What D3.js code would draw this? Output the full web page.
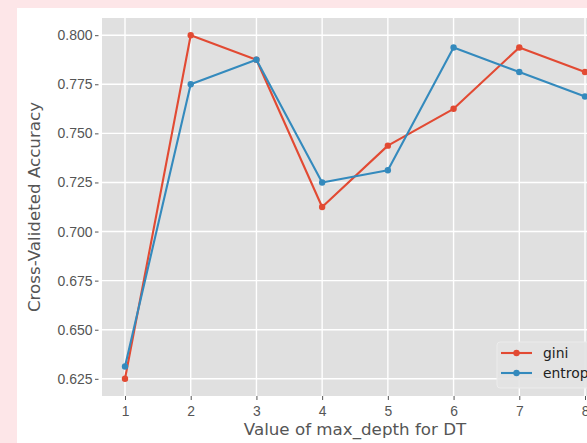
<!DOCTYPE html>
<html>
<head>
<meta charset="utf-8">
<script src="https://cdn.jsdelivr.net/npm/d3@7"></script>
<style>
  html, body { margin: 0; padding: 0; background: #fde6e8; }
  svg { display: block; font-family: "DejaVu Sans", sans-serif; }
</style>
</head>
<body>
<div id="chart"></div>
<script>
// data
const depths = [1, 2, 3, 4, 5, 6, 7, 8];
const giniAcc = [0.625, 0.800, 0.7875, 0.7125, 0.74375, 0.7625, 0.79375, 0.78125];
const entropyAcc = [0.63125, 0.775, 0.7875, 0.725, 0.73125, 0.79375, 0.78125, 0.76875];
const yTicks = [0.625, 0.650, 0.675, 0.700, 0.725, 0.750, 0.775, 0.800];
const seriesNames = ["gini", "entropy"];
const seriesColors = ["#E24A33", "#348ABD"];

const width = 587, height = 443;
// panel goes past the right edge, the figure is cropped there
const panel = { left: 102, right: 608, top: 18, bottom: 396 };

const svg = d3.select("#chart").append("svg")
    .attr("width", width)
    .attr("height", height);

// pink frame + white figure area
svg.append("rect").attr("width", width).attr("height", height).attr("fill", "#fde6e8");
svg.append("rect").attr("x", 17).attr("y", 8)
    .attr("width", width - 17).attr("height", height - 8).attr("fill", "#ffffff");

const x = d3.scaleLinear().domain([0.65, 8.35]).range([panel.left, panel.right]);
const y = d3.scaleLinear().domain([0.61625, 0.80875]).range([panel.bottom, panel.top]);

// panel background
svg.append("rect")
    .attr("x", panel.left).attr("y", panel.top)
    .attr("width", panel.right - panel.left).attr("height", panel.bottom - panel.top)
    .attr("fill", "#e0e0e0");

// grid
const g = svg.append("g");
g.selectAll(".hgrid").data(yTicks).enter().append("line")
    .attr("x1", panel.left).attr("x2", panel.right)
    .attr("y1", d => y(d)).attr("y2", d => y(d))
    .attr("stroke", "#fff").attr("stroke-width", 1.4);
g.selectAll(".vgrid").data(depths).enter().append("line")
    .attr("y1", panel.top).attr("y2", panel.bottom)
    .attr("x1", d => x(d)).attr("x2", d => x(d))
    .attr("stroke", "#fff").attr("stroke-width", 1.4);

// axes (ticks outside the panel, no spine)
const xAxis = svg.append("g")
    .attr("transform", `translate(0, ${panel.bottom})`)
    .call(d3.axisBottom(x).tickValues(depths).tickFormat(d3.format("d")).tickSizeInner(5).tickSizeOuter(0).tickPadding(5));
xAxis.select(".domain").remove();
xAxis.selectAll(".tick line").attr("stroke", "#555").attr("y1", 0).attr("y2", 4);
xAxis.selectAll("text").attr("fill", "#555").style("font-size", "13.9px");

const yAxis = svg.append("g")
    .attr("transform", `translate(${panel.left}, 0)`)
    .call(d3.axisLeft(y).tickValues(yTicks).tickFormat(d3.format(".3f")).tickSizeInner(7).tickSizeOuter(0).tickPadding(2.5));
yAxis.select(".domain").remove();
yAxis.selectAll(".tick line").attr("stroke", "#555").attr("x1", -7).attr("x2", -3.5);
yAxis.selectAll("text").attr("fill", "#555").style("font-size", "14px");

// axis labels
svg.append("text")
    .attr("x", (panel.left + panel.right) / 2)
    .attr("y", 435)
    .attr("text-anchor", "middle")
    .attr("fill", "#555")
    .style("font-size", "16.7px")
    .text("Value of max_depth for DT");

svg.append("text")
    .attr("transform", `translate(40, ${(panel.top + panel.bottom) / 2}) rotate(-90)`)
    .attr("text-anchor", "middle")
    .attr("fill", "#555")
    .style("font-size", "16.7px")
    .text("Cross-Valideted Accuracy");

// lines + markers
const seriesData = [giniAcc, entropyAcc];
const line = d3.line().x((d, i) => x(depths[i])).y(d => y(d));

seriesData.forEach((vals, s) => {
    svg.append("path")
        .datum(vals)
        .attr("d", line)
        .attr("fill", "none")
        .attr("stroke", seriesColors[s])
        .attr("stroke-width", 2.1)
        .attr("stroke-linejoin", "round");
    svg.selectAll(".pt" + s).data(vals).enter().append("circle")
        .attr("cx", (d, i) => x(depths[i]))
        .attr("cy", d => y(d))
        .attr("r", 3.2)
        .attr("fill", seriesColors[s]);
});

// legend
const leg = svg.append("g");
leg.append("rect")
    .attr("x", 497).attr("y", 342)
    .attr("width", 130).attr("height", 46)
    .attr("rx", 3)
    .attr("fill", "#e3e3e3").attr("fill-opacity", 0.9)
    .attr("stroke", "#ececec");
seriesNames.forEach((name, i) => {
    const ly = 353 + i * 20;
    leg.append("line")
        .attr("x1", 501).attr("x2", 532).attr("y1", ly).attr("y2", ly)
        .attr("stroke", seriesColors[i]).attr("stroke-width", 2.1);
    leg.append("circle")
        .attr("cx", 516.5).attr("cy", ly).attr("r", 3.2)
        .attr("fill", seriesColors[i]);
    leg.append("text")
        .attr("x", 543).attr("y", ly).attr("dy", "0.35em")
        .attr("fill", "#222")
        .style("font-size", "13.9px")
        .text(name);
});
</script>
</body>
</html>
